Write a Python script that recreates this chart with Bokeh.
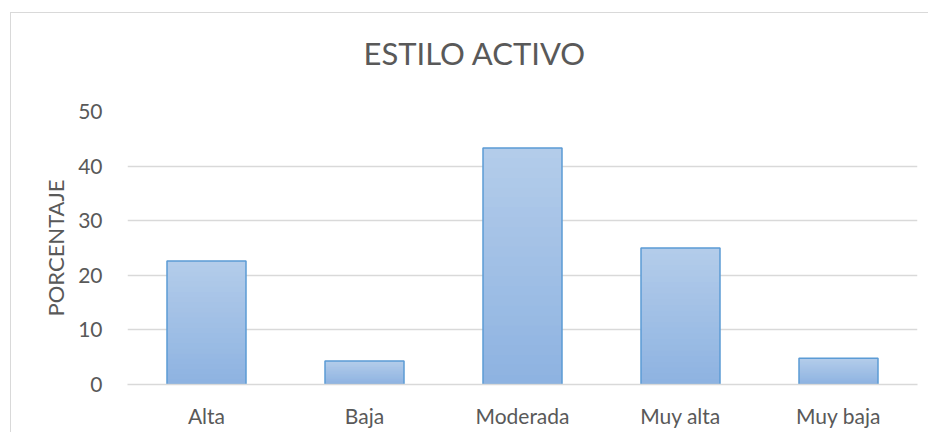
from bokeh.plotting import figure
from bokeh.models import Range1d, FactorRange, FixedTicker, ColumnDataSource
from bokeh.embed import file_html
from bokeh.resources import INLINE

categories = ["Alta", "Baja", "Moderada", "Muy alta", "Muy baja"]
values = [22.6, 4.3, 43.3, 25.0, 4.8]
y_ticks = [0, 10, 20, 30, 40, 50]
title_text = "ESTILO ACTIVO"
y_label = "PORCENTAJE"

FONT = "Lato"
TXT = "#595959"

p = figure(x_range=FactorRange(*categories, range_padding=0),
           y_range=Range1d(0, 50),
           width=918, height=420,
           output_backend="svg", toolbar_location=None,
           min_border_left=116, min_border_right=12,
           min_border_top=98, min_border_bottom=49)
p.margin = (12, 0, 0, 10)
p.styles = {"border-left": "1px solid #d9d9d9", "border-top": "1px solid #d9d9d9"}
p.outline_line_color = None
p.background_fill_color = "white"
p.border_fill_color = "white"

# vertical gradient fill of each bar (light at top, darker at bottom)
N = 24
top_rgb = (0xb3, 0xcc, 0xea)
bot_rgb = (0x8e, 0xb3, 0xe1)
gx, gb, gt, gc = [], [], [], []
for cat, v in zip(categories, values):
    for i in range(N):
        f = i / (N - 1)
        rgb = tuple(round(b + (t - b) * f) for b, t in zip(bot_rgb, top_rgb))
        gx.append(cat)
        gb.append(v * i / N)
        gt.append(min(v, v * (i + 3) / N))
        gc.append("#%02x%02x%02x" % rgb)
p.vbar(x="x", bottom="b", top="t", width=0.5, fill_color="c", line_color=None,
       source=ColumnDataSource(dict(x=gx, b=gb, t=gt, c=gc)))
p.vbar(x=categories, top=values, width=0.5, bottom=0,
       fill_color=None, line_color="#5b9bd5", line_width=1.5)

p.xgrid.grid_line_color = None
p.ygrid.grid_line_color = "#d9d9d9"
p.ygrid.grid_line_width = 1.3
p.yaxis.ticker = FixedTicker(ticks=y_ticks)

for ax in (p.xaxis[0], p.yaxis[0]):
    ax.major_tick_line_color = None
    ax.minor_tick_line_color = None
    ax.major_label_text_font = FONT
    ax.major_label_text_color = TXT
    ax.major_label_text_font_size = "21px"
p.yaxis.axis_line_color = None
p.xaxis.axis_line_color = "#d9d9d9"
p.xaxis.axis_line_width = 1.3
p.xaxis.major_label_standoff = 12
p.yaxis.major_label_standoff = 19

p.yaxis.axis_label = y_label
p.yaxis.axis_label_text_font = FONT
p.yaxis.axis_label_text_font_style = "normal"
p.yaxis.axis_label_text_color = TXT
p.yaxis.axis_label_text_font_size = "22px"
p.yaxis.axis_label_standoff = 6

# a blank second line lifts the title above the plot area
p.title.text = title_text + "\n "
p.title.align = "left"
p.title.offset = 236
p.title.vertical_align = "bottom"
p.title.text_font = FONT
p.title.text_font_style = "normal"
p.title.text_font_size = "31px"
p.title.text_color = TXT
p.title.standoff = 3

open("out.html", "w").write(file_html(p, INLINE))
